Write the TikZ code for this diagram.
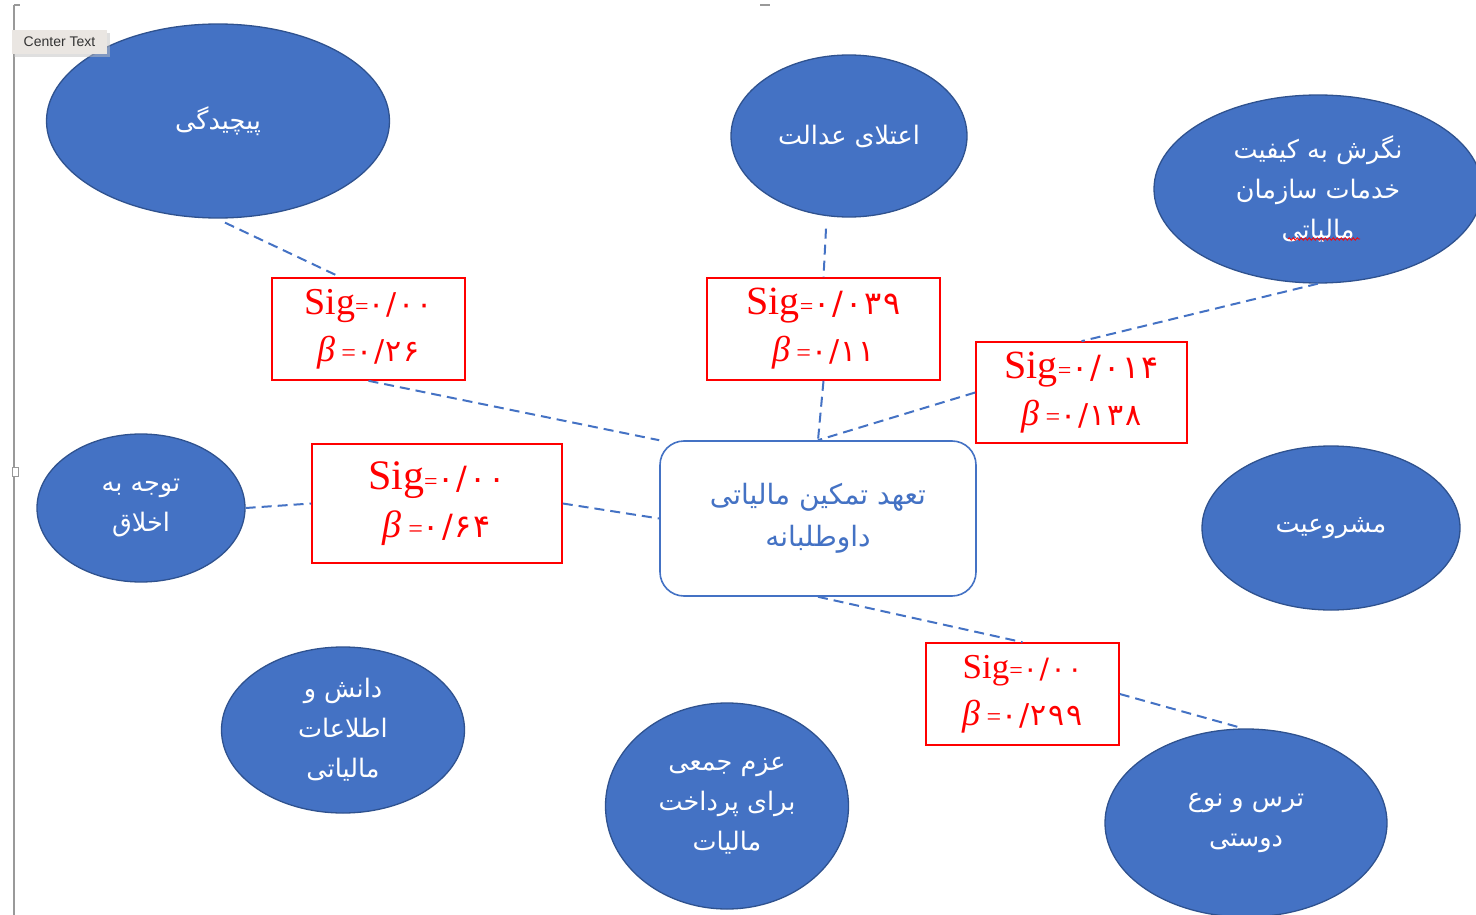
\documentclass[tikz,border=0pt]{standalone}
\usepackage{fontspec}
\usetikzlibrary{shapes.geometric,calc,decorations.pathmorphing,shadows}
\setmainfont{Liberation Serif}
\newfontfamily\fa[Script=Arabic]{DejaVu Sans}
\newfontfamily\fadig[LetterSpace=6]{DejaVu Sans}
\newfontfamily\uisans{Liberation Sans}
\TeXXeTstate=1
\definecolor{accent}{HTML}{4472C4}
\definecolor{accentdark}{HTML}{2F528F}
\definecolor{tipfill}{HTML}{EAE6E2}
% one line of right-to-left text
\newcommand\rl[1]{\beginR #1\endR}
% "Sig=..." and "beta=..." rows of the red boxes: #1 big size, #2 digit size, #3 digits
\newcommand\sigrow[3]{{\fontsize{#1}{#1}\selectfont Sig}{\fontsize{24}{24}\selectfont=}{\fontsize{#2}{#2}\fadig #3}}
\newcommand\betarow[3]{{\fontsize{#1}{#1}\selectfont\itshape β}{\fontsize{26}{26}\selectfont\ =}{\fontsize{#2}{#2}\fadig #3}}
\tikzset{
  factor/.style={ellipse, draw=accentdark, line width=1.3pt, fill=accent,
    text=white, align=center, inner sep=0pt,
    font=\fa\fontsize{25.5}{40}\selectfont},
  core/.style={rectangle, rounded corners=24pt, draw=accent, line width=1.6pt,
    fill=white, text=accent, align=center, inner sep=0pt,
    font=\fa\fontsize{28}{42}\selectfont},
  sigbox/.style={rectangle, draw=red, line width=1.6pt, fill=white,
    text=red, align=center, inner sep=0pt},
  link/.style={draw=accent, line width=2pt, dash pattern=on 10pt off 6pt},
}
\begin{document}
\begin{tikzpicture}[x=1pt,y=-1pt]
\useasboundingbox (0,0) rectangle (1476,915);
\begin{scope}
\clip (0,0) rectangle (1476,915);

% editor margin guide
\draw[gray!80, line width=1.5pt] (14,5) -- (14,915);
\draw[gray!80, line width=1.2pt] (14,5) -- (20,5);
\draw[gray!80, line width=1.2pt] (760,5) -- (770,5);
\draw[gray!80, line width=1pt, fill=white] (12,467) rectangle (18,476);

% factors
\node[factor, minimum width=343, minimum height=194] (pich) at (218,121) {\rl{پیچیدگی}};
\node[factor, minimum width=236, minimum height=162] (adl) at (849,136) {\rl{اعتلای عدالت}};
\node[factor, minimum width=328, minimum height=188] (neg) at (1318,189)
  {\rl{نگرش به کیفیت}\\\rl{خدمات سازمان}\\\rl{مالیاتی}};
\draw[red, line width=0.8pt, decorate,
  decoration={snake, amplitude=1.2pt, segment length=4pt}]
  ($(neg.center)+(-30,50)$) -- ($(neg.center)+(42,50)$);
\node[factor, minimum width=208, minimum height=148] (akh) at (141,508)
  {\rl{توجه به}\\\rl{اخلاق}};
\node[factor, minimum width=258, minimum height=164] (mash) at (1331,528) {\rl{مشروعیت}};
\node[factor, minimum width=243, minimum height=166] (dan) at (343,730)
  {\rl{دانش و}\\\rl{اطلاعات}\\\rl{مالیاتی}};
\node[factor, minimum width=243, minimum height=206] (azm) at (727,806)
  {\rl{عزم جمعی}\\\rl{برای پرداخت}\\\rl{مالیات}};
\node[factor, minimum width=282, minimum height=188] (tars) at (1246,823)
  {\rl{ترس و نوع}\\\rl{دوستی}};

% outcome
\node[core, minimum width=316, minimum height=155] (core) at (818,518.5)
  {\rl{تعهد تمکین مالیاتی}\\\rl{داوطلبانه}};

% coefficient boxes
\node[sigbox, minimum width=193, minimum height=102, font=\fontsize{38}{47}\selectfont] (b1) at (368.5,329)
  {\sigrow{38}{30}{۰/۰۰}\\\betarow{36}{30}{۰/۲۶}};
\node[sigbox, minimum width=233, minimum height=102, font=\fontsize{40}{47}\selectfont] (b2) at (823.5,329)
  {\sigrow{40}{32}{۰/۰۳۹}\\\betarow{36}{30}{۰/۱۱}};
\node[sigbox, minimum width=211, minimum height=101, font=\fontsize{40}{47}\selectfont] (b3) at (1081.5,392.5)
  {\sigrow{40}{32}{۰/۰۱۴}\\\betarow{36}{30}{۰/۱۳۸}};
\node[sigbox, minimum width=250, minimum height=119, font=\fontsize{42}{48}\selectfont] (b4) at (437,503.5)
  {\sigrow{42}{32}{۰/۰۰}\\\betarow{38}{32}{۰/۶۴}};
\node[sigbox, minimum width=193, minimum height=102, font=\fontsize{35}{47}\selectfont] (b5) at (1022.5,694)
  {\sigrow{35}{28}{۰/۰۰}\\\betarow{36}{30}{۰/۲۹۹}};

% dashed links
\draw[link] ($(pich.south)+(7,4)$) -- ($(b1.north)+(-28,0)$);
\draw[link] (b1.south) -- (core.north west);
\draw[link] ($(adl.south)+(-23,11)$) -- (b2.north);
\draw[link] (b2.south) -- (core.north);
\draw[link] (neg.south) -- (b3.north);
\draw[link] (b3.west) -- (core.north);
\draw[link] (akh.east) -- (b4.west);
\draw[link] (b4.east) -- (core.west);
\draw[link] (core.south) -- (b5.north);
\draw[link] (b5.east) -- ($(tars.north)+(-3,0)$);

% tooltip
\fill[black!25, opacity=0.5] (14,33) rectangle (110,57);
\node[rectangle, fill=tipfill, minimum width=95, minimum height=24, inner sep=0pt,
  font=\uisans\fontsize{14}{14}\selectfont, text=black!80] (tip) at (59.5,42) {Center Text};
\end{scope}
\end{tikzpicture}
\end{document}
